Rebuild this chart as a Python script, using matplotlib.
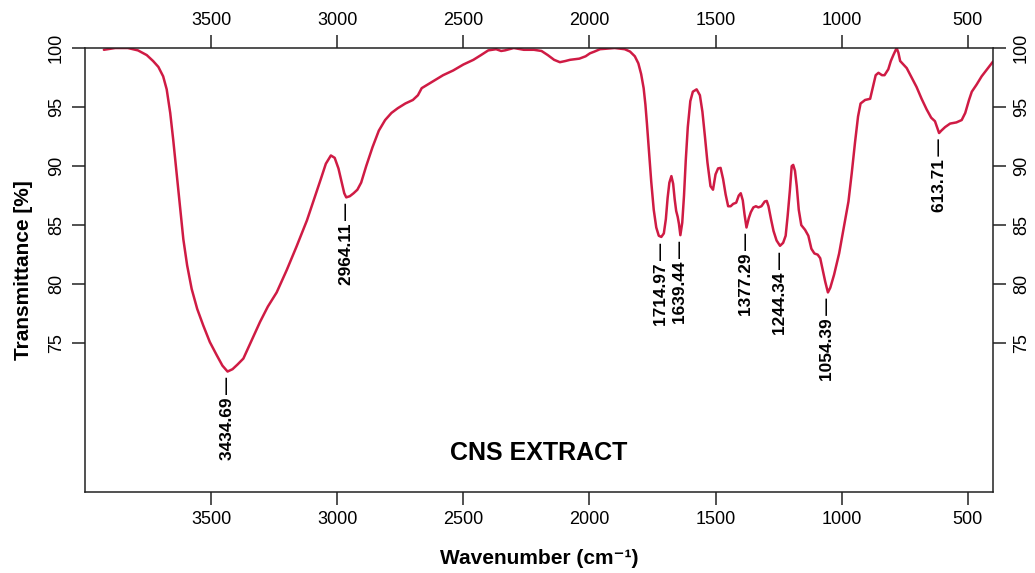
import matplotlib.pyplot as plt

plt.rcParams['font.family'] = ['Liberation Sans', 'DejaVu Sans']

# FTIR spectrum, read in descending wavenumber order
wavenumber = [
    3925, 3880, 3830, 3790, 3755, 3730, 3709, 3690, 3676, 3662, 3650, 3640,
    3630, 3620, 3610, 3595, 3577, 3555, 3531, 3505, 3478, 3455, 3434.69, 3415,
    3395, 3372, 3340, 3306, 3275, 3240, 3200, 3161, 3120, 3090, 3065, 3045,
    3025, 3010, 2995, 2982, 2972, 2964.11, 2950, 2935, 2920, 2905, 2885, 2860,
    2835, 2810, 2785, 2760, 2730, 2700, 2680, 2665, 2619, 2580, 2540, 2500,
    2460, 2430, 2401, 2370, 2350, 2335, 2300, 2260, 2220, 2190, 2165, 2140,
    2117, 2095, 2077, 2040, 2015, 1998, 1980, 1958, 1900, 1860, 1839, 1820,
    1806, 1795, 1785, 1778, 1772, 1765, 1755, 1745, 1735, 1725, 1714.97, 1705,
    1697, 1690, 1683, 1675, 1668, 1662, 1656, 1650, 1645, 1639.44, 1632, 1625,
    1618, 1610, 1600, 1590, 1575, 1562, 1552, 1542, 1532, 1520, 1510, 1500,
    1490, 1480, 1470, 1460, 1450, 1440, 1430, 1418, 1408, 1400, 1392, 1385,
    1377.29, 1368, 1360, 1350, 1340, 1330, 1318, 1305, 1297, 1290, 1280, 1270,
    1258, 1244.34, 1232, 1222, 1214, 1205, 1198, 1192, 1185, 1178, 1170, 1160,
    1145, 1132, 1120, 1108, 1095, 1085, 1075, 1065, 1054.39, 1045, 1030, 1010,
    990, 973, 960, 947, 935, 925, 907, 887, 875, 865, 854, 840,
    830, 815, 805, 795, 782, 775, 768, 755, 742, 725, 703, 683,
    663, 645, 630, 620, 613.71, 605, 590, 570, 545, 524, 510, 495,
    484, 465, 445, 420, 400,
]
transmittance = [
    99.85, 100.0, 100.0, 99.8, 99.4, 98.9, 98.4, 97.6, 96.5, 94.5, 92.2, 90.1,
    88.0, 85.9, 83.8, 81.6, 79.6, 77.9, 76.5, 75.1, 74.0, 73.1, 72.6, 72.8,
    73.2, 73.7, 75.2, 76.8, 78.1, 79.3, 81.2, 83.2, 85.4, 87.3, 88.9, 90.2,
    90.9, 90.7, 89.8, 88.6, 87.7, 87.35, 87.45, 87.7, 88.0, 88.6, 90.0, 91.6,
    93.0, 93.9, 94.5, 94.9, 95.3, 95.6, 96.0, 96.6, 97.2, 97.7, 98.1, 98.6,
    99.0, 99.4, 99.8, 99.9, 99.75, 99.8, 100.0, 99.85, 99.85, 99.75, 99.4, 99.0,
    98.8, 98.9, 99.0, 99.1, 99.3, 99.55, 99.7, 99.9, 100.0, 99.9, 99.7, 99.3,
    98.7, 97.8, 96.6, 95.2, 93.6, 91.6, 88.7, 86.3, 84.8, 84.1, 84.0, 84.3,
    85.5, 87.3, 88.6, 89.15, 88.5, 87.2, 86.2, 85.7, 85.1, 84.15, 85.2, 87.5,
    90.5, 93.3, 95.5, 96.3, 96.5, 96.0, 94.6, 92.5, 90.3, 88.3, 88.0, 89.3,
    89.8, 89.85, 88.9, 87.6, 86.6, 86.6, 86.8, 86.9, 87.5, 87.7, 87.1, 85.9,
    84.8, 85.6, 86.1, 86.5, 86.6, 86.5, 86.6, 87.0, 87.05, 86.6, 85.5, 84.5,
    83.7, 83.25, 83.5, 84.1, 85.8, 88.0, 90.0, 90.1, 89.6, 88.3, 86.3, 85.0,
    84.6, 84.1, 83.0, 82.6, 82.5, 82.2, 81.2, 80.2, 79.3, 79.7, 80.8, 82.6,
    85.0, 87.0, 89.4, 92.0, 94.2, 95.3, 95.6, 95.7, 96.8, 97.7, 97.9, 97.7,
    97.7, 98.2, 98.9, 99.4, 100.0, 99.6, 98.9, 98.6, 98.3, 97.6, 96.7, 95.7,
    94.8, 94.1, 93.8, 93.2, 92.8, 93.0, 93.3, 93.6, 93.7, 93.9, 94.5, 95.6,
    96.3, 96.9, 97.6, 98.3, 98.85,
]

# labelled absorption bands
peaks = [3434.69, 2964.11, 1714.97, 1639.44, 1377.29, 1244.34, 1054.39, 613.71]

x_ticks = [3500, 3000, 2500, 2000, 1500, 1000, 500]
y_ticks = [75, 80, 85, 90, 95, 100]

fig = plt.figure(figsize=(10.35, 5.73), dpi=100)
ax = fig.add_axes([0.0821, 0.1414, 0.8773, 0.7748])

ax.plot(wavenumber, transmittance, color='#cf1b44', lw=1.8,
        solid_joinstyle='round', solid_capstyle='round')

ax.set_xlim(4000, 400)
ax.set_ylim(62.4, 100)
ax.set_xticks(x_ticks)
ax.set_yticks(y_ticks)

for s in ax.spines.values():
    s.set_linewidth(1.1)
    s.set_color('#222222')

ax.tick_params(axis='both', direction='out', length=9.5, width=1.1, color='#222222',
               labelsize=13, top=True, right=True, labeltop=True, labelright=True)
ax.tick_params(axis='x', pad=4)
ax.tick_params(axis='y', labelrotation=90, pad=5)
for t in ax.yaxis.get_major_ticks():
    t.label1.set_verticalalignment('center')
    t.label2.set_verticalalignment('center')

for w in peaks:
    t = transmittance[wavenumber.index(w)]
    ax.annotate(f'{w:.2f}\u2009\u2014', xy=(w, t), xytext=(0, -4), textcoords='offset points',
                rotation=90, ha='center', va='top', fontsize=12.4, fontweight='bold')

ax.text(0.5, 0.088, 'CNS EXTRACT', transform=ax.transAxes, ha='center', va='center',
        fontsize=18, fontweight='bold')

ax.set_xlabel('Wavenumber (cm\u207b\u00b9)', fontsize=15, fontweight='bold', labelpad=15)
ax.set_ylabel('Transmittance [%]', fontsize=15, fontweight='bold', labelpad=11)

plt.savefig('out.png', dpi=100)
